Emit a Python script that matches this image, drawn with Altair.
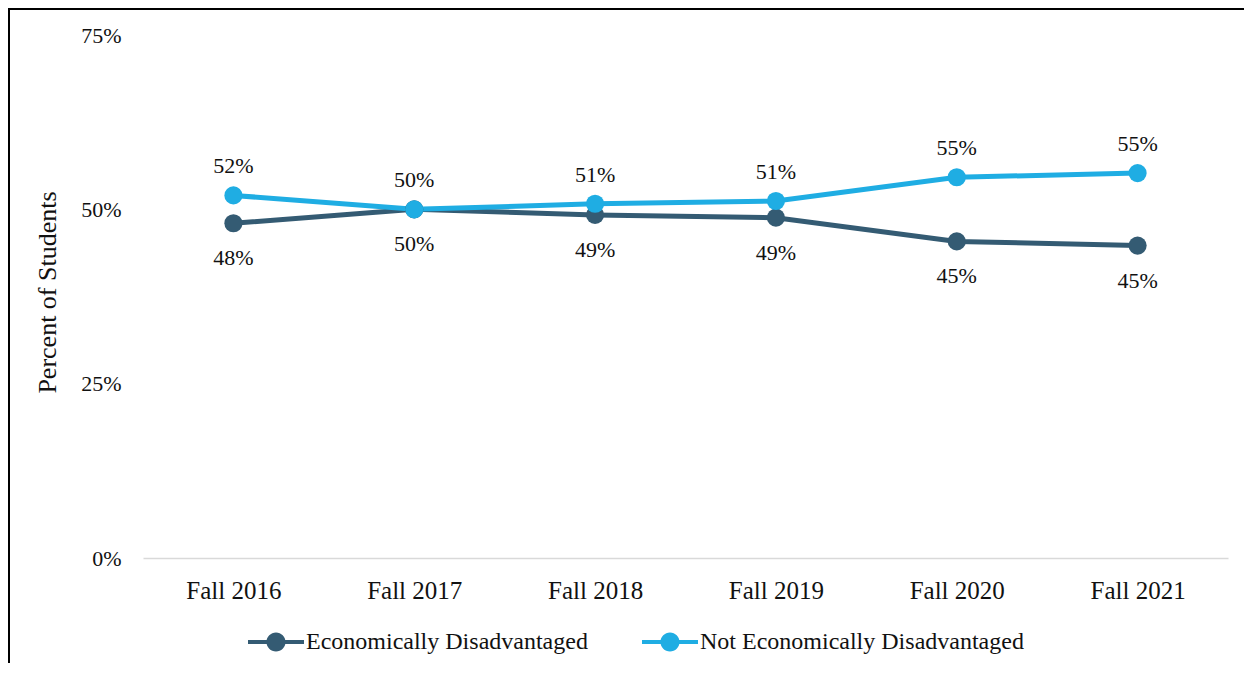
import altair as alt
import pandas as pd

years = ["Fall 2016", "Fall 2017", "Fall 2018", "Fall 2019", "Fall 2020", "Fall 2021"]
econ_dis = [48.0, 50.0, 49.2, 48.8, 45.4, 44.8]
not_econ_dis = [52.0, 50.0, 50.8, 51.2, 54.6, 55.2]
series_names = ["Economically Disadvantaged", "Not Economically Disadvantaged"]
colors = ["#345B73", "#1FADE3"]
y_ticks = [0, 25, 50, 75]

rows = []
for name, vals in zip(series_names, [econ_dis, not_econ_dis]):
    for yr, v in zip(years, vals):
        rows.append({"year": yr, "series": name, "value": v, "label": f"{round(v)}%"})
df = pd.DataFrame(rows)

FONT = "Liberation Serif"
TXT = "#111111"

x = alt.X("year:O", sort=years, scale=alt.Scale(type="point", padding=0.5),
          axis=alt.Axis(title=None, labelAngle=0, ticks=False, domainColor="#D9D9D9",
                        domainWidth=1.5, labelFont=FONT, labelFontSize=25,
                        labelColor=TXT, labelPadding=20, grid=False))
y = alt.Y("value:Q", scale=alt.Scale(domain=[0, 75], nice=False, zero=True),
          axis=alt.Axis(title="Percent of Students", values=y_ticks,
                        labelExpr="datum.value + '%'", domain=False, ticks=False,
                        grid=False, labelFont=FONT, labelFontSize=22, labelColor=TXT,
                        labelPadding=22, titleFont=FONT, titleFontSize=26,
                        titleFontWeight="normal", titleColor=TXT, titleAngle=270,
                        titleX=-96, titleY=257, titleAlign="center",
                        titleBaseline="middle"))
color_scale = alt.Scale(domain=series_names, range=colors)

legend_symbol = ("M -1 -0.075 H 1 V 0.075 H -1 Z "
                 "M 0.34 0 A 0.34 0.34 0 1 1 -0.34 0 A 0.34 0.34 0 1 1 0.34 0 Z")

base = alt.Chart(df)

line_layers = [
    base.transform_filter(alt.datum.series == name)
    .mark_line(strokeWidth=5, color=col)
    .encode(x=x, y=y)
    for name, col in zip(series_names, colors)
]

points = base.mark_point(filled=True, size=330, opacity=1, shape="circle").encode(
    x=x, y=y,
    fill=alt.Fill("series:N", scale=color_scale,
                  legend=alt.Legend(title=None, orient="none", legendX=105, legendY=579,
                                    direction="horizontal", symbolType=legend_symbol,
                                    symbolSize=3136, symbolStrokeWidth=0,
                                    symbolOpacity=1,
                                    labelFont=FONT, labelFontSize=24, labelColor=TXT,
                                    labelOffset=2, columnPadding=54, padding=0,
                                    labelLimit=600)),
)

labels_top = base.transform_filter(
    alt.datum.series == series_names[1]
).mark_text(font=FONT, fontSize=22, color=TXT, dy=-29, baseline="middle").encode(
    x=x, y=y, text="label:N")

labels_bottom = base.transform_filter(
    alt.datum.series == series_names[0]
).mark_text(font=FONT, fontSize=22, color=TXT, dy=35, baseline="middle").encode(
    x=x, y=y, text="label:N")

frame = alt.Chart(pd.DataFrame({"f": [0]})).mark_rect(
    fill="transparent", stroke="#000000", strokeWidth=2).encode(
    x=alt.value(-134), x2=alt.value(1300), y=alt.value(-26), y2=alt.value(800))

chart = alt.layer(frame, *line_layers, points, labels_top, labels_bottom).properties(
    width=1085, height=523,
    background="white",
    autosize=alt.AutoSizeParams(type="none"),
    padding={"left": 135, "top": 27, "right": 16, "bottom": 105},
).configure_view(strokeWidth=0, stroke="transparent")

chart.save("out.html", embed_options={"renderer": "svg", "actions": False})
